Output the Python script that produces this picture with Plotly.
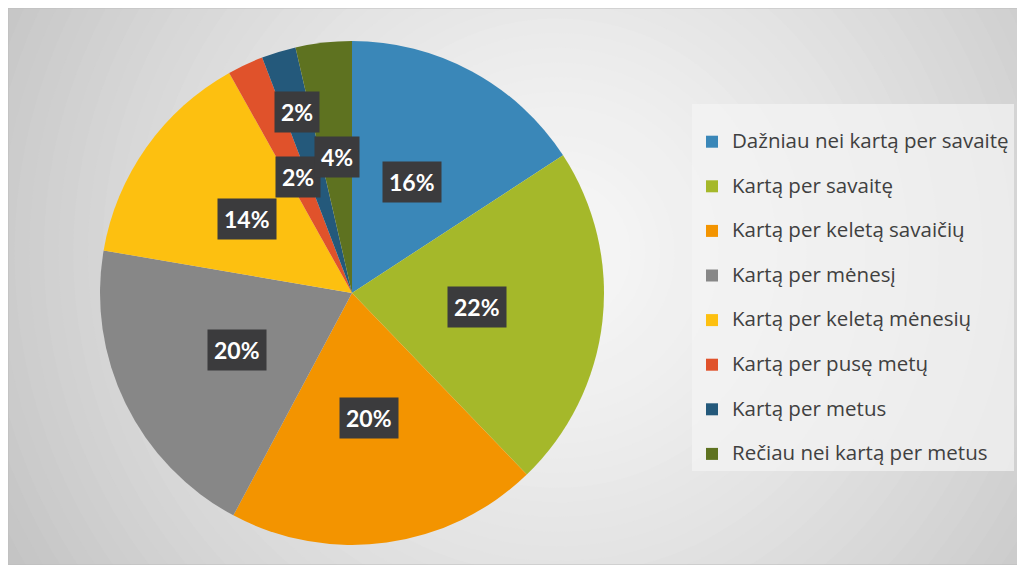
import math
import plotly.graph_objects as go

# ---- data ----
categories = [
    "Dažniau nei kartą per savaitę",
    "Kartą per savaitę",
    "Kartą per keletą savaičių",
    "Kartą per mėnesį",
    "Kartą per keletą mėnesių",
    "Kartą per pusę metų",
    "Kartą per metus",
    "Rečiau nei kartą per metus",
]
values = [15.8, 22.0, 20.0, 19.9, 14.2, 2.3, 2.2, 3.6]
colors = ["#3a87b8", "#a5b82a", "#f39400", "#878787", "#fdc010", "#e0522b", "#24597b", "#5e7220"]
label_radius = [0.5, 0.5, 0.5, 0.51, 0.51, 0.51, 0.75, 0.545]

# ---- layout geometry (styling) ----
W, H = 1017, 557
PIE_CX, PIE_CY, PIE_R = 344, 272, 252  # px; y measured from bottom
dom_x = [(PIE_CX - PIE_R) / W, (PIE_CX + PIE_R) / W]
dom_y = [(PIE_CY - PIE_R) / H, (PIE_CY + PIE_R) / H]

legend_labels = [
    '\u00a0<br><span style="font-size:20.5px;font-family:Open Sans">' + c + '</span>'
    for c in categories
]

fig = go.Figure()
fig.add_trace(go.Pie(
    labels=legend_labels,
    values=values,
    sort=False,
    direction="clockwise",
    rotation=0,
    marker=dict(colors=colors, line=dict(width=0)),
    textinfo="none",
    hoverinfo="percent",
    domain=dict(x=dom_x, y=dom_y),
))

# ---- percentage labels placed at slice mid-angles ----
total = sum(values)
cum = 0.0
annotations = []
for v, k in zip(values, label_radius):
    mid = (cum + v / 2) / total * 2 * math.pi
    cum += v
    px = PIE_CX + k * PIE_R * math.sin(mid)
    py = PIE_CY + k * PIE_R * math.cos(mid)
    annotations.append(dict(
        x=px / W, y=py / H, xref="paper", yref="paper",
        text=f"<b>{round(v / total * 100)}%</b>",
        showarrow=False,
        font=dict(family="Lato", size=23, color="white"),
        bgcolor="#3b3b3d",
        borderpad=6,
        xanchor="center", yanchor="middle",
    ))

# ---- radial gradient background via stacked ellipses ----
shapes = []
inner = (246, 246, 246)
outer = (193, 193, 193)
gcx, gcy = 0.54, 0.56
R = 660
N = 45
for i in range(N):
    t = 1 - i / N
    c = tuple(int(round(inner[j] + (outer[j] - inner[j]) * t ** 1.4)) for j in range(3))
    rx, ry = R * t / W, R * t / H
    shapes.append(dict(
        type="circle", xref="paper", yref="paper", layer="below",
        x0=gcx - rx, x1=gcx + rx, y0=gcy - ry, y1=gcy + ry,
        fillcolor="rgb(%d,%d,%d)" % c, line=dict(width=0),
    ))
shapes.append(dict(type="rect", xref="paper", yref="paper", layer="above",
                   x0=0, x1=1, y0=0, y1=1, line=dict(color="#bdbdbd", width=1)))

fig.update_layout(
    width=W, height=H,
    margin=dict(l=0, r=0, t=0, b=0),
    paper_bgcolor="rgb(193,193,193)",
    plot_bgcolor="rgba(0,0,0,0)",
    shapes=shapes,
    annotations=annotations,
    showlegend=True,
    legend=dict(
        x=684 / W, y=1 - 96 / H, xanchor="left", yanchor="top",
        bgcolor="rgba(244,244,244,0.72)",
        font=dict(family="Open Sans", size=16, color="#404040"),
        valign="bottom",
        itemwidth=30,
    ),
)

fig.write_html("out.html")
